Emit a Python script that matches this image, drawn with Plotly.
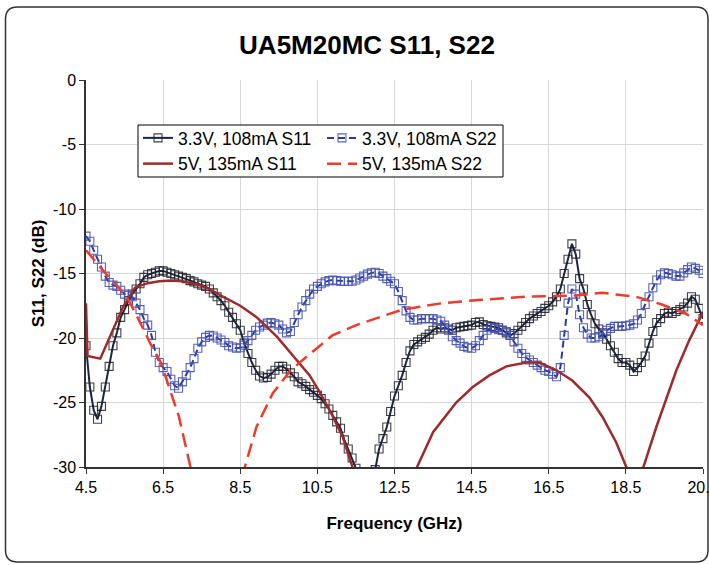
import plotly.graph_objects as go

# ---------------- data ----------------
# 3.3 V, 108 mA series: sampled every 0.1 GHz from 4.5 to 20.5 GHz
freq = [round(4.5 + 0.1 * i, 1) for i in range(161)]

s11_33 = [
    -20.6, -23.8, -25.6, -26.3, -25.3, -23.8, -22.2, -20.6, -19.6, -18.4,   # 4.5-5.4
    -17.8, -17.1, -16.6, -16.2, -15.8, -15.3, -15.1, -15.0, -14.9, -14.8,   # 5.5-6.4
    -14.8, -14.9, -15.0, -15.1, -15.2, -15.3, -15.4, -15.55, -15.65, -15.8, # 6.5-7.4
    -15.9, -16.0, -16.2, -16.5, -16.8, -17.1, -17.5, -18.0, -18.4, -18.9,   # 7.5-8.4
    -19.4, -20.4, -21.2, -21.9, -22.5, -22.95, -23.1, -23.05, -22.8, -22.5, # 8.5-9.4
    -22.2, -22.2, -22.4, -22.7, -23.0, -23.4, -23.55, -23.75, -24.0, -24.2, # 9.5-10.4
    -24.45, -24.7, -25.1, -25.5, -26.0, -26.5, -27.0, -27.9, -28.6, -29.3,  # 10.5-11.4
    -30.1, -31.2, -32.5, -33.5, -32.5, -30.2, -28.6, -27.8, -26.9, -25.7,   # 11.5-12.4
    -24.5, -23.7, -22.9, -21.9, -21.0, -20.5, -20.3, -20.1, -19.95, -19.7,  # 12.5-13.4
    -19.4, -19.2, -19.3, -19.2, -19.3, -19.4, -19.2, -19.15, -19.1, -19.05, # 13.5-14.4
    -19.0, -18.8, -18.75, -18.95, -19.05, -19.1, -19.15, -19.2, -19.4, -19.6,  # 14.5-15.4
    -19.8, -19.65, -19.4, -19.1, -18.8, -18.5, -18.3, -18.1, -17.95, -17.7,    # 15.5-16.4
    -17.5, -17.2, -16.8, -16.2, -15.0, -13.9, -12.7, -13.5, -15.4, -16.2,     # 16.5-17.4
    -17.4, -18.2, -18.9, -19.3, -19.6, -20.1, -20.6, -21.1, -21.6, -21.9,     # 17.5-18.4
    -21.9, -22.1, -22.6, -22.3, -21.9, -21.4, -20.4, -19.5, -18.8, -18.5,     # 18.5-19.4
    -18.1, -18.0, -18.1, -17.95, -17.8, -17.6, -17.3, -16.8, -17.0, -17.7,    # 19.5-20.4
    -18.5,                                                                     # 20.5
]

s22_33 = [
    -12.1, -12.5, -13.2, -13.9, -14.5, -15.2, -15.7, -15.9, -16.0, -16.3,   # 4.5-5.4
    -16.6, -16.7, -16.8, -17.3, -17.8, -18.5, -19.0, -19.8, -21.1, -21.9,   # 5.5-6.4
    -22.3, -22.6, -23.2, -23.7, -23.9, -23.4, -22.9, -22.3, -21.6, -20.8,   # 6.5-7.4
    -20.3, -19.95, -19.8, -19.85, -20.0, -20.15, -20.35, -20.6, -20.7, -20.8,  # 7.5-8.4
    -20.75, -20.55, -20.2, -19.8, -19.4, -19.15, -19.0, -18.85, -18.8, -18.9,  # 8.5-9.4
    -19.0, -19.3, -19.6, -19.5, -18.8, -18.2, -17.6, -17.1, -16.6, -16.2,   # 9.5-10.4
    -16.0, -15.8, -15.65, -15.55, -15.5, -15.55, -15.6, -15.6, -15.6, -15.6,   # 10.5-11.4
    -15.5, -15.35, -15.2, -15.05, -14.95, -14.9, -15.0, -15.2, -15.4, -15.6,   # 11.5-12.4
    -15.8, -16.4, -17.1, -17.9, -18.4, -18.6, -18.6, -18.5, -18.5, -18.5,   # 12.5-13.4
    -18.5, -18.6, -18.7, -19.0, -19.4, -19.9, -20.2, -20.4, -20.65, -20.75, # 13.5-14.4
    -20.8, -20.6, -20.2, -19.8, -19.4, -19.2, -19.25, -19.35, -19.4, -19.5, # 14.5-15.4
    -19.8, -20.3, -20.8, -21.2, -21.5, -21.7, -21.9, -22.1, -22.3, -22.5,   # 15.5-16.4
    -22.6, -22.8, -23.0, -22.3, -19.8, -17.3, -16.2, -16.6, -18.2, -19.2,   # 16.5-17.4
    -19.7, -20.0, -20.0, -19.9, -19.7, -19.4, -19.25, -19.1, -19.1, -19.1,  # 17.5-18.4
    -19.05, -19.0, -18.9, -18.6, -18.1, -17.4, -16.8, -16.1, -15.5, -15.1,  # 18.5-19.4
    -14.95, -15.0, -15.1, -15.2, -15.2, -14.95, -14.7, -14.5, -14.6, -14.75,   # 19.5-20.4
    -15.0,                                                                     # 20.5
]

# 5 V, 135 mA series (coarser sampling)
freq_s11_5v = [4.5, 4.54, 4.87, 5.2, 5.46, 5.77, 6.1, 6.4, 6.7, 7.0, 7.4, 7.7, 8.05, 8.5,
               8.93, 9.45, 9.97, 10.3, 10.56, 10.82, 11.16, 11.42, 11.8, 12.3, 12.8, 13.07,
               13.5, 14.1, 14.53, 14.96, 15.4, 15.92, 16.26, 16.7, 17.11, 17.55, 17.89,
               18.25, 18.51, 18.62, 18.95, 19.29, 19.81, 20.14, 20.5]
s11_5v = [-17.3, -21.4, -21.6, -19.4, -17.6, -16.1, -15.75, -15.6, -15.55, -15.6, -15.85,
          -16.2, -16.8, -17.5, -18.4, -19.9, -21.7, -22.9, -24.2, -25.6, -27.7, -30.1,
          -33.0, -35.0, -33.0, -30.1, -27.3, -25.0, -23.8, -22.9, -22.2, -21.9, -21.9,
          -22.5, -23.3, -24.6, -26.1, -28.1, -30.0, -30.3, -30.05, -26.9, -22.5, -20.2,
          -18.0]

freq_s22_5v = [4.5, 4.92, 5.35, 5.61, 5.87, 6.18, 6.44, 6.65, 6.91, 7.17, 7.4, 8.0, 8.5,
               8.62, 8.92, 9.34, 9.78, 10.12, 10.37, 10.89, 11.51, 12.11, 12.7, 13.74,
               14.69, 15.91, 16.77, 17.21, 17.88, 18.76, 19.43, 20.05, 20.5]
s22_5v = [-13.2, -14.7, -16.1, -17.1, -18.6, -20.5, -21.9, -23.8, -26.1, -29.5, -32.5,
          -36.0, -31.8, -30.0, -26.9, -24.3, -22.6, -21.7, -21.1, -19.8, -19.0, -18.4,
          -17.8, -17.3, -17.05, -16.8, -16.7, -16.7, -16.5, -16.8, -17.4, -18.1, -19.0]

x_ticks = [4.5, 6.5, 8.5, 10.5, 12.5, 14.5, 16.5, 18.5, 20.5]
x_tick_text = ["4.5", "6.5", "8.5", "10.5", "12.5", "14.5", "16.5", "18.5", "20.5"]
y_ticks = [0, -5, -10, -15, -20, -25, -30]
y_tick_text = ["0", "-5", "-10", "-15", "-20", "-25", "-30"]

names = ["3.3V, 108mA S11", "3.3V, 108mA S22", "5V, 135mA S11", "5V, 135mA S22"]

# ---------------- figure ----------------
FONT = "Liberation Sans, Arial, sans-serif"
W, H = 709, 565
ML, MR, MT, MB = 86, 6, 80, 98
PW, PH = W - ML - MR, H - MT - MB


def px_x(px):
    return (px - ML) / PW


def px_y(py):
    return (H - MB - py) / PH


fig = go.Figure()

fig.add_trace(go.Scatter(
    x=freq, y=s11_33, name=names[0], mode="lines+markers", legend="legend",
    line=dict(color="#1c2541", width=2),
    marker=dict(symbol="square-open", size=8, color="rgba(30,30,40,0.85)",
                line=dict(width=1.1)),
))
fig.add_trace(go.Scatter(
    x=freq, y=s22_33, name=names[1], mode="lines+markers", legend="legend2",
    line=dict(color="#2b3a9c", width=2, dash="7px,4px"),
    marker=dict(symbol="square-open", size=8, color="rgba(70,82,180,0.9)",
                line=dict(width=1.1)),
))
fig.add_trace(go.Scatter(
    x=freq_s11_5v, y=s11_5v, name=names[2], mode="lines", legend="legend",
    line=dict(color="#9e2b2b", width=2.5),
))
fig.add_trace(go.Scatter(
    x=freq_s22_5v, y=s22_5v, name=names[3], mode="lines", legend="legend2",
    line=dict(color="#ee3b2b", width=2.5, dash="14px,7px"),
))

# chart-area border (rounded rectangle)
x0, x1 = px_x(5.5), px_x(708)
y0, y1 = px_y(562), px_y(7)
rx, ry = 12 / PW, 12 / PH
border_path = (
    f"M {x0 + rx},{y1} L {x1 - rx},{y1} Q {x1},{y1} {x1},{y1 - ry} "
    f"L {x1},{y0 + ry} Q {x1},{y0} {x1 - rx},{y0} L {x0 + rx},{y0} "
    f"Q {x0},{y0} {x0},{y0 + ry} L {x0},{y1 - ry} Q {x0},{y1} {x0 + rx},{y1} Z"
)

fig.update_layout(
    width=W, height=H, autosize=False,
    margin=dict(l=ML, r=MR, t=MT, b=MB, pad=0),
    paper_bgcolor="white", plot_bgcolor="white",
    font=dict(family=FONT, size=16, color="black"),
    title=dict(text="<b>UA5M20MC S11, S22</b>", x=367 / W, xref="container",
               xanchor="center", y=1 - 45 / H, yref="container", yanchor="middle",
               font=dict(family=FONT, size=26, color="black")),
    xaxis=dict(range=[4.5, 20.5], tickvals=x_ticks, ticktext=x_tick_text,
               showgrid=True, gridcolor="#d9d9d9", gridwidth=1, zeroline=False,
               showline=True, linecolor="#333333", linewidth=1.5,
               ticks="outside", ticklen=5, tickcolor="#333333",
               ticklabeloverflow="allow", automargin=False,
               tickfont=dict(family=FONT, size=16, color="black"),
               title=dict(text="<b>Frequency (GHz)</b>", standoff=22,
                          font=dict(family=FONT, size=17, color="black"))),
    yaxis=dict(range=[-30, 0], tickvals=y_ticks, ticktext=y_tick_text,
               showgrid=True, gridcolor="#d9d9d9", gridwidth=1, zeroline=False,
               showline=True, linecolor="#333333", linewidth=1.5,
               ticks="outside", ticklen=5, tickcolor="#333333",
               automargin=False,
               tickfont=dict(family=FONT, size=16, color="black"),
               title=dict(text="<b>S11, S22 (dB)</b>", standoff=4,
                          font=dict(family=FONT, size=17, color="black"))),
    legend=dict(x=px_x(138), y=px_y(120), xanchor="left", yanchor="top",
                bgcolor="rgba(0,0,0,0)", borderwidth=0,
                font=dict(family=FONT, size=17.5, color="black")),
    legend2=dict(x=px_x(322), y=px_y(120), xanchor="left", yanchor="top",
                 bgcolor="rgba(0,0,0,0)", borderwidth=0,
                 font=dict(family=FONT, size=17.5, color="black")),
    shapes=[
        dict(type="rect", xref="paper", yref="paper",
             x0=px_x(138), x1=px_x(503), y0=px_y(177), y1=px_y(125),
             line=dict(color="black", width=1), fillcolor="white", layer="above"),
        dict(type="path", xref="paper", yref="paper", path=border_path,
             line=dict(color="#333333", width=1.5), layer="below"),
    ],
)

# remove the default page margin (and scrollbars) so the figure sits at the window's corner
fig.write_html("out.html", config={"displayModeBar": False},
               post_script="document.body.style.margin='0';"
                           "document.body.style.overflow='hidden';")
